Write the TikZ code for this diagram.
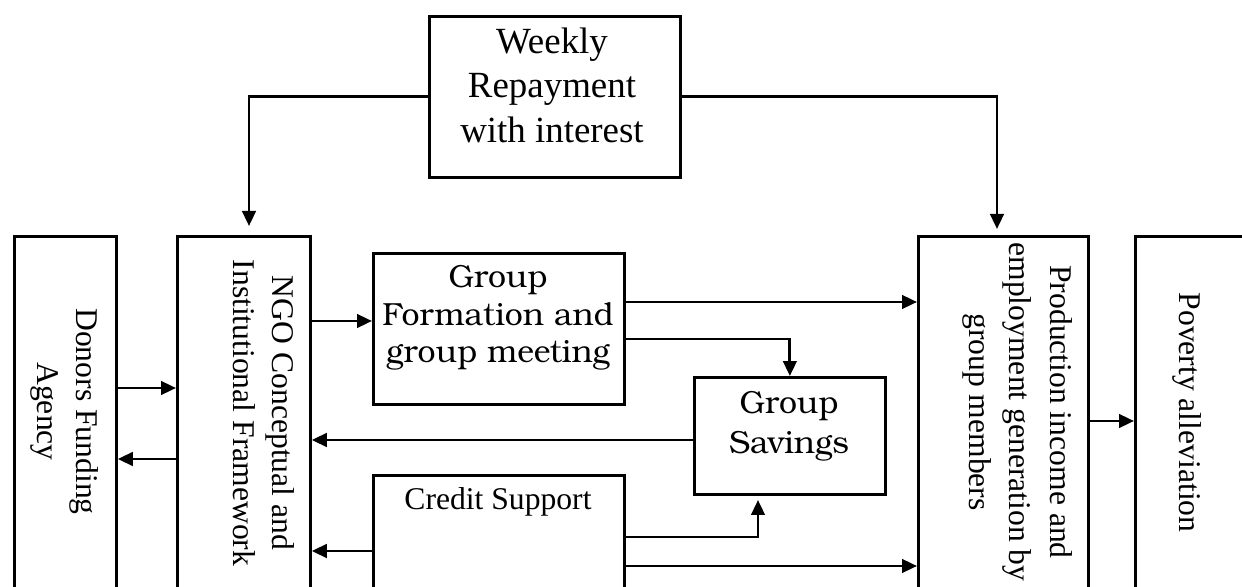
\documentclass[tikz,border=0pt]{standalone}
\usepackage{fontspec}
\setmainfont{Liberation Serif}
\newfontfamily\bookfont{texgyrebonum-regular.otf}
\usetikzlibrary{arrows.meta}
\begin{document}
\begin{tikzpicture}[x=0.02cm, y=-0.02cm,
  box/.style={draw, line width=1.6pt, rectangle, inner sep=0pt, anchor=north west},
  conn/.style={line width=1.6pt, -{Triangle[length=0.3cm, width=0.27cm]}},
  lbl/.style={inner sep=0pt, align=center, font=\fontsize{18pt}{22.2pt}\selectfont},
  bigtxt/.style={font=\fontsize{21pt}{25.3pt}\selectfont},
  booktxt/.style={font=\bookfont\fontsize{18.2pt}{21.3pt}\selectfont}
]
\useasboundingbox (0,0) rectangle (1242,587);
\clip (0,0) rectangle (1242,587);

% boxes
\node[box, minimum width=2.04cm, minimum height=7.3cm] (don)  at (13,235)  {};
\node[box, minimum width=2.66cm, minimum height=7.3cm] (ngo)  at (176,235) {};
\node[box, minimum width=5.02cm, minimum height=3.22cm] (week) at (428,15)  {};
\node[box, minimum width=5.02cm, minimum height=3.02cm] (gf)   at (372,252) {};
\node[box, minimum width=3.82cm, minimum height=2.34cm] (sav)  at (693,376) {};
\node[box, minimum width=5.02cm, minimum height=2.52cm] (cr)   at (372,474) {};
\node[box, minimum width=3.4cm,  minimum height=7.3cm] (prod) at (917,235) {};
\node[box, minimum width=2.52cm, minimum height=7.3cm] (pov)  at (1134,235) {};

% labels
\node[lbl, bigtxt] (weektxt) at (552,85) {Weekly\\Repayment\\with interest};
\node[lbl, rotate=-90] (dontxt) at (65,411.5) {Donors Funding\\Agency};
\node[lbl, rotate=-90] (ngotxt) at (263.5,413) {NGO Conceptual and\\Institutional Framework};
\node[lbl, rotate=-90, font=\fontsize{18pt}{23.3pt}\selectfont] (prodtxt) at (1017.5,412)
  {Production income and\\employment generation by\\group members};
\node[lbl, rotate=-90] (povtxt) at (1187,412.5) {Poverty alleviation};
\node[lbl, anchor=base] (crtxt) at (498,510) {Credit Support};
\node[lbl, booktxt] (gftxt) at (498,318) {Group\\Formation and\\group meeting};
\node[lbl, font=\bookfont\fontsize{18.2pt}{22.5pt}\selectfont] (savtxt) at (789,426) {Group\\Savings};

% levels of the horizontal connectors
\coordinate (h302) at (0,302);
\coordinate (h321) at (0,321);
\coordinate (h339) at (0,339);
\coordinate (h388) at (0,388);
\coordinate (h421) at (0,421);
\coordinate (h440) at (0,440);
\coordinate (h459) at (0,459);
\coordinate (h537) at (0,537);
\coordinate (h551) at (0,551);
\coordinate (h566) at (0,566);

% free ends
\coordinate (ngoin)  at (249,226);
\coordinate (prodin) at (997,229);
\coordinate (savin)  at (758,500);

% connectors
\draw[conn] (week.west) -| (ngoin);
\draw[conn] (week.east) -| (prodin);
\draw[conn] (don.east |- h388) -- (ngo.west |- h388);
\draw[conn] (ngo.west |- h459) -- (don.east |- h459);
\draw[conn] (ngo.east |- h321) -- (gf.west |- h321);
\draw[conn] (gf.east |- h302) -- (prod.west |- h302);
\draw[conn] (gf.east |- h339) -| (sav.north);
\draw[conn] (sav.west |- h440) -- (ngo.east |- h440);
\draw[conn] (cr.west |- h551) -- (ngo.east |- h551);
\draw[conn] (cr.east |- h537) -| (savin);
\draw[conn] (cr.east |- h566) -- (prod.west |- h566);
\draw[conn] (prod.east |- h421) -- (pov.west |- h421);
\end{tikzpicture}
\end{document}
